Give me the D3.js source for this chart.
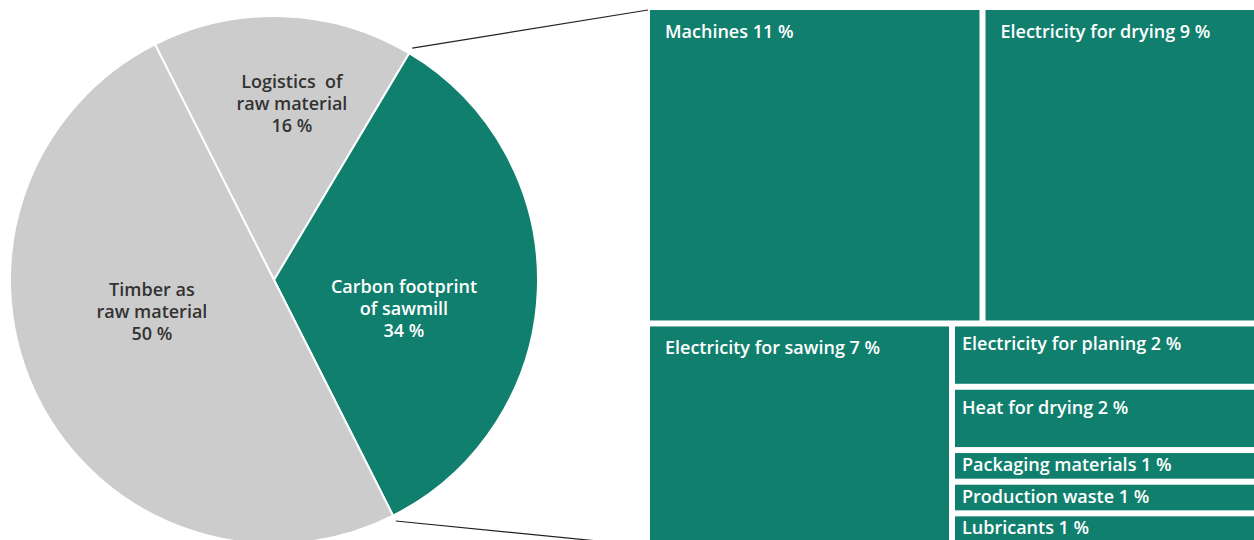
<!DOCTYPE html>
<html>
<head>
<meta charset="utf-8">
<script src="https://cdn.jsdelivr.net/npm/d3@7"></script>
<style>
  html, body { margin: 0; padding: 0; background: #fff; }
  svg { display: block; font-family: "Open Sans", sans-serif; font-weight: 600; }
</style>
</head>
<body>
<svg id="chart" width="1254" height="540"></svg>
<script>
// Share of the sawn timber carbon footprint
const pieCategories = ["Logistics  of\nraw material", "Carbon footprint\nof sawmill", "Timber as\nraw material"];
const pieValues = [16, 34, 50];
const pieColors = ["#cccccc", "#117f6e", "#cccccc"];
const pieTextColors = ["#333333", "#ffffff", "#333333"];

// Breakdown of the sawmill share
const treeCategories = ["Machines", "Electricity for drying", "Electricity for sawing",
  "Electricity for planing", "Heat for drying", "Packaging materials",
  "Production waste", "Lubricants"];
const treeValues = [11, 9, 7, 2, 2, 1, 1, 1];
// nesting of the breakdown: two rows, the second with a stacked column
const treeRows = [[0, 1], [2, [3, 4, 5, 6, 7]]];

const svg = d3.select("#chart");
const green = "#117f6e";
const fontSize = 18;

// ---- pie ----
const cx = 274, cy = 280, R = 264;
const startA = -26.8 * Math.PI / 180;
const pie = d3.pie().sort(null).startAngle(startA).endAngle(startA + 2 * Math.PI);
const arcs = pie(pieValues);
const arc = d3.arc().innerRadius(0).outerRadius(R);

const pg = svg.append("g").attr("transform", `translate(${cx},${cy})`);
pg.selectAll("path").data(arcs).join("path")
  .attr("d", arc)
  .attr("fill", (d, i) => pieColors[i])
  .attr("stroke", "#fff")
  .attr("stroke-width", 2)
  .attr("stroke-linejoin", "round");

// label anchors in polar form: [angle in degrees from 12 o'clock, radius]
const labelPolar = [[5.8, 177], [102.2, 133], [255.7, 126]];
const lineH = 22;
arcs.forEach((a, i) => {
  const [deg, r] = labelPolar[i];
  const t = deg * Math.PI / 180;
  const x = r * Math.sin(t), y = -r * Math.cos(t);
  const lines = pieCategories[i].split("\n").concat([pieValues[i] + " %"]);
  const txt = pg.append("text")
    .attr("x", x).attr("y", y)
    .attr("text-anchor", "middle")
    .attr("fill", pieTextColors[i])
    .style("font-size", fontSize + "px")
    .style("white-space", "pre");
  lines.forEach((ln, k) => {
    txt.append("tspan")
      .attr("x", x)
      .attr("y", y + (k - 1) * lineH + 6.5)
      .text(ln);
  });
});

// ---- treemap ----
const tx0 = 650, ty0 = 10, tx1 = 1254, ty1 = 542;
const build = item => Array.isArray(item)
  ? { children: item.map(build) }
  : { name: treeCategories[item], value: treeValues[item] };
const root = d3.hierarchy({ children: treeRows.map(build) })
  .sum(d => d.value || 0);

const tile = (node, x0, y0, x1, y1) =>
  (node.depth % 2 === 0 ? d3.treemapSlice : d3.treemapDice)(node, x0, y0, x1, y1);

d3.treemap().tile(tile).paddingInner(6).size([tx1 - tx0, ty1 - ty0])(root);

const tg = svg.append("g").attr("transform", `translate(${tx0},${ty0})`);
const leaves = root.leaves();
tg.selectAll("rect").data(leaves).join("rect")
  .attr("x", d => d.x0).attr("y", d => d.y0)
  .attr("width", d => d.x1 - d.x0).attr("height", d => d.y1 - d.y0)
  .attr("fill", green);

tg.selectAll("text").data(leaves).join("text")
  .attr("x", d => d.x0 + ((d.y1 - d.y0) > 100 ? 15 : 7))
  .attr("y", d => {
    const h = d.y1 - d.y0;
    return d.y0 + (h > 100 ? 27.5 : Math.min(h / 2 + 5, 24));
  })
  .attr("fill", "#fff")
  .style("font-size", fontSize + "px")
  .text(d => `${d.data.name} ${d.data.value} %`);

// ---- connector lines from the sawmill slice to the breakdown ----
const saw = arcs[1];
const edge = (ang, r) => [cx + r * Math.sin(ang), cy - r * Math.cos(ang)];
const p1 = edge(saw.startAngle, R + 6), p2 = edge(saw.endAngle, R + 6);
svg.append("line")
  .attr("x1", p1[0]).attr("y1", p1[1]).attr("x2", tx0 - 2).attr("y2", ty0)
  .attr("stroke", "#222").attr("stroke-width", 1.2);
svg.append("line")
  .attr("x1", p2[0]).attr("y1", p2[1]).attr("x2", tx0 - 2).attr("y2", ty1 + 4)
  .attr("stroke", "#222").attr("stroke-width", 1.2);
</script>
</body>
</html>
